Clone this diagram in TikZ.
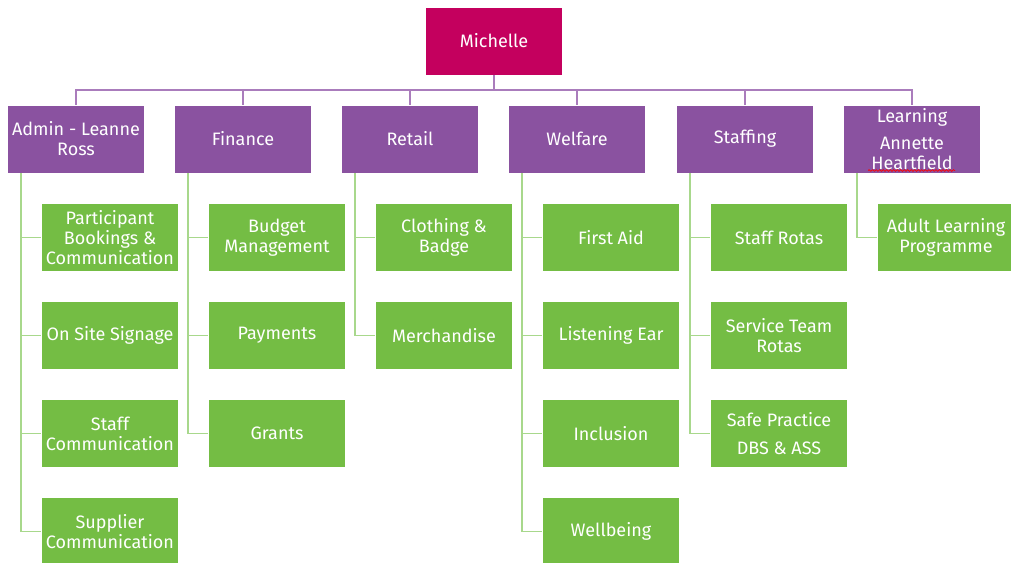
\documentclass[tikz,border=0pt]{standalone}
\usepackage{fontspec}
\setmainfont{Fira Sans}
\usetikzlibrary{decorations.pathmorphing}

\definecolor{bosscol}{RGB}{196,0,94}
\definecolor{headcol}{RGB}{138,82,160}
\definecolor{taskcol}{RGB}{116,189,68}
\definecolor{headline}{RGB}{170,124,188}
\definecolor{taskline}{RGB}{168,216,140}

\begin{document}
\begin{tikzpicture}[x=0.025cm, y=-0.025cm,
		box/.style={rectangle, minimum width=3.42cm, minimum height=1.7cm, inner sep=1pt,
			align=center, text=white, draw=white!60, line width=0.3pt,
			font=\fontsize{12.8}{14.2}\selectfont},
		boss/.style={box, fill=bosscol},
		head/.style={box, fill=headcol},
		task/.style={box, fill=taskcol},
		bossline/.style={draw=headline, line width=1.4pt},
		kidline/.style={draw=taskline, line width=1.4pt}]
	\useasboundingbox (0,0) rectangle (1011,563);

	\node[boss] (michelle) at (494,41) {Michelle};

	\node[head] (admin) at (76,139) {Admin - Leanne\\Ross};
	\node[head] (finance) at (243,139) {Finance};
	\node[head] (retail) at (410,139) {Retail};
	\node[head] (welfare) at (577,139) {Welfare};
	\node[head] (staffing) at (745,139) {Staffing};
	\node[head] (learning) at (912,139) {Learning\\[5pt]Annette\\Heartfield};

	\node[task] (a1) at (110,237.5) {Participant\\Bookings \&\\Communication};
	\node[task] (a2) at (110,335.5) {On Site Signage};
	\node[task] (a3) at (110,433.5) {Staff\\Communication};
	\node[task] (a4) at (110,531.5) {Supplier\\Communication};

	\node[task] (f1) at (277,237.5) {Budget\\Management};
	\node[task] (f2) at (277,335.5) {Payments};
	\node[task] (f3) at (277,433.5) {Grants};

	\node[task] (r1) at (444,237.5) {Clothing \&\\Badge};
	\node[task] (r2) at (444,335.5) {Merchandise};

	\node[task] (w1) at (611,237.5) {First Aid};
	\node[task] (w2) at (611,335.5) {Listening Ear};
	\node[task] (w3) at (611,433.5) {Inclusion};
	\node[task] (w4) at (611,531.5) {Wellbeing};

	\node[task] (s1) at (779,237.5) {Staff Rotas};
	\node[task] (s2) at (779,335.5) {Service Team\\Rotas};
	\node[task] (s3) at (779,433.5) {Safe Practice\\[5.5pt]DBS \& ASS};

	\node[task] (l1) at (946,237.5) {Adult Learning\\Programme};

	% spell-check squiggle
	\draw[red, line width=0.5pt, decorate, decoration={snake, amplitude=0.6pt, segment length=2.5pt}]
		(868,170.5) -- (955,170.5);

	\foreach \p in {admin,finance,retail,welfare,staffing,learning}
		\draw[bossline] (michelle.south) -- ++(0,15) -| (\p.north);

	\foreach \p/\c in {admin/a1,admin/a2,admin/a3,admin/a4,finance/f1,finance/f2,finance/f3,
			retail/r1,retail/r2,welfare/w1,welfare/w2,welfare/w3,welfare/w4,
			staffing/s1,staffing/s2,staffing/s3,learning/l1}
		\draw[kidline] ([xshift=0.34cm]\p.south west) |- (\c.west);
\end{tikzpicture}
\end{document}
